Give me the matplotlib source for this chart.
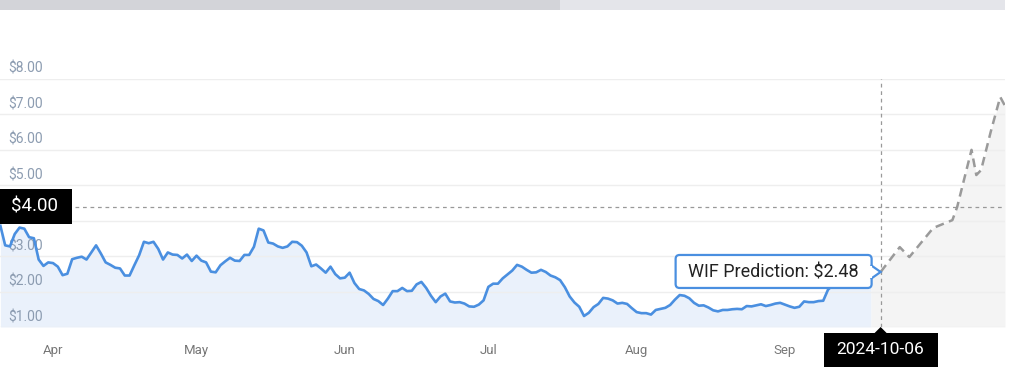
import pandas as pd
import matplotlib
matplotlib.use("Agg")
import matplotlib.pyplot as plt
import matplotlib.dates as mdates
from matplotlib.patches import Rectangle, FancyBboxPatch, Polygon

plt.rcParams["font.family"] = ["Roboto", "DejaVu Sans"]

# daily WIF price, 2024-03-21 .. 2024-09-19
hist_start = "2024-03-21"
hist_prices = [
    3.85, 3.30, 3.27, 3.62, 3.80, 3.77, 3.53, 3.50, 2.90, 2.72, 2.82,
    2.80, 2.70, 2.46, 2.50, 2.91, 2.95, 2.98, 2.90, 3.10, 3.30,
    3.07, 2.82, 2.75, 2.67, 2.65, 2.45, 2.45, 2.74, 3.02, 3.40,
    3.36, 3.40, 3.20, 2.90, 3.10, 3.04, 3.03, 2.93, 3.04, 2.86,
    3.01, 2.87, 2.82, 2.56, 2.54, 2.74, 2.85, 2.95, 2.87, 2.86,
    3.03, 3.03, 3.26, 3.77, 3.72, 3.38, 3.35, 3.27, 3.23, 3.27,
    3.40, 3.39, 3.29, 3.10, 2.71, 2.76, 2.65, 2.53, 2.70, 2.49,
    2.37, 2.39, 2.53, 2.24, 2.07, 2.03, 1.93, 1.79, 1.73, 1.62,
    1.80, 2.01, 2.01, 2.10, 2.01, 2.02, 2.20, 2.27, 2.10, 1.88,
    1.70, 1.86, 1.94, 1.72, 1.69, 1.70, 1.66, 1.58, 1.57, 1.63,
    1.75, 2.13, 2.22, 2.22, 2.37, 2.48, 2.59, 2.75, 2.70, 2.61,
    2.53, 2.54, 2.61, 2.55, 2.45, 2.40, 2.32, 2.12, 1.86, 1.69,
    1.57, 1.31, 1.40, 1.56, 1.65, 1.82, 1.80, 1.75, 1.66, 1.68,
    1.65, 1.53, 1.42, 1.39, 1.39, 1.35, 1.48, 1.51, 1.54, 1.62,
    1.77, 1.90, 1.88, 1.81, 1.68, 1.60, 1.61, 1.55, 1.47, 1.44,
    1.48, 1.48, 1.50, 1.51, 1.50, 1.59, 1.58, 1.61, 1.64, 1.59,
    1.62, 1.66, 1.68, 1.63, 1.58, 1.54, 1.57, 1.72, 1.70, 1.70,
    1.73, 1.74, 2.05, 2.18, 2.22, 2.24, 2.27, 2.31, 2.36, 2.42, 2.46, 2.49,
]

pred_dates = ["2024-09-21", "2024-09-25", "2024-09-27", "2024-10-02", "2024-10-06",
              "2024-10-07", "2024-10-10", "2024-10-11", "2024-10-12", "2024-10-14",
              "2024-10-16", "2024-10-17"]
pred_prices = [2.55, 3.25, 2.97, 3.79, 4.01, 4.38, 5.99, 5.28, 5.42, 6.49, 7.48, 7.23]

# the $4.00 tick and the Oct label sit under the black crosshair boxes, so they are left out
y_grid = [1, 2, 3, 4, 5, 6, 7, 8]
y_ticks = [1, 2, 3, 5, 6, 7, 8]
y_labels = ["$1.00", "$2.00", "$3.00", "$5.00", "$6.00", "$7.00", "$8.00"]
month_ticks = ["2024-04-01", "2024-05-01", "2024-06-01", "2024-07-01",
               "2024-08-01", "2024-09-01"]
month_labels = ["Apr", "May", "Jun", "Jul", "Aug", "Sep"]

cross_price = 4.39
cross_label = "$4.00"
date_label = "2024-10-06"
tip_text = "WIF Prediction: $2.48"

hist_dates = pd.date_range(hist_start, periods=len(hist_prices), freq="D")
pred_dates = pd.to_datetime(pred_dates)

W, H = 1024, 367
fig = plt.figure(figsize=(W / 100, H / 100), dpi=100)
ax = fig.add_axes([0, 40 / H, 1005 / W, (327 - 78.5) / H])

blue = "#4a8fe0"
ax.fill_between(hist_dates, hist_prices, 1, color="#eaf1fb", lw=0, zorder=1)
gray_x = [hist_dates[-1]] + list(pred_dates)
gray_y = [hist_prices[-1]] + pred_prices
ax.fill_between(gray_x, gray_y, 1, color="#f4f4f4", lw=0, zorder=1)
ax.plot(hist_dates, hist_prices, color=blue, lw=1.9, zorder=4, solid_joinstyle="round")
ax.plot(pred_dates, pred_prices, color="#9a9a9a", lw=1.8, ls=(0, (3.5, 2.2)), zorder=4)

ax.set_ylim(1, 8)
ax.set_xlim(pd.Timestamp("2024-03-20 22:00"), pd.Timestamp("2024-10-17"))
for v in y_grid:
    ax.axhline(v, color="#eeeeee", lw=1, zorder=2)
for v, lab in zip(y_ticks, y_labels):
    ax.text(0.008, v + 0.08, lab, transform=ax.get_yaxis_transform(),
            color="#8b9bb0", fontsize=10, va="bottom", ha="left", zorder=3)

for s in ax.spines.values():
    s.set_visible(False)
ax.set_yticks([])
ax.set_xticks(pd.to_datetime(month_ticks))
ax.set_xticklabels(month_labels, color="#777777", fontsize=9.5)
ax.tick_params(axis="x", length=0, pad=12)

# crosshair
ax.axhline(cross_price, color="#999999", lw=0.9, ls=(0, (3, 3)), zorder=3)
ax.axvline(pred_dates[0], color="#999999", lw=0.9, ls=(0, (3, 3)), zorder=3)

fig.canvas.draw()
cx, cy = ax.transData.transform((mdates.date2num(pred_dates[0]), cross_price))
px, py = ax.transData.transform((mdates.date2num(pred_dates[0]), pred_prices[0]))
bottom = 40

# $ label box on the left
fig.add_artist(Rectangle((0, cy - 17.5), 72, 35, transform=None, fc="black", ec="none", zorder=10))
fig.text(35 / W, cy / H, cross_label, color="white", fontsize=13.5, ha="center", va="center", zorder=11)

# date box under the crosshair
fig.add_artist(Rectangle((cx - 57, 0), 114, bottom - 6, transform=None, fc="black", ec="none", zorder=10))
fig.add_artist(Polygon([(cx - 6, bottom - 6), (cx, bottom), (cx + 6, bottom - 6)], closed=True,
                       transform=None, fc="black", ec="none", zorder=10))
fig.text(cx / W, (bottom - 6) / 2 / H, date_label, color="white", fontsize=12.5,
         ha="center", va="center", zorder=11)

# tooltip
bx0, bx1 = px - 205, px - 9
fig.add_artist(FancyBboxPatch((bx0, py - 16), bx1 - bx0, 33, boxstyle="round,pad=0,rounding_size=4",
                              transform=None, fc="white", ec=blue, lw=1.6, zorder=10))
fig.add_artist(Polygon([(bx1 - 1, py + 7), (px, py), (bx1 - 1, py - 7)], closed=False,
                       transform=None, fc="white", ec=blue, lw=1.6, zorder=11))
fig.add_artist(Rectangle((bx1 - 3, py - 6), 3, 12, transform=None, fc="white", ec="none", zorder=11))
fig.text((bx0 + bx1) / 2 / W, (py - 1) / H, tip_text, color="#222222", fontsize=13,
         ha="center", va="center", zorder=12)

# scroll bar across the top
fig.add_artist(Rectangle((0, H - 10), 560, 10, transform=None, fc="#d3d4d9", ec="none"))
fig.add_artist(Rectangle((560, H - 10), 445, 10, transform=None, fc="#e4e5ea", ec="none"))

fig.savefig("out.png", dpi=100)
